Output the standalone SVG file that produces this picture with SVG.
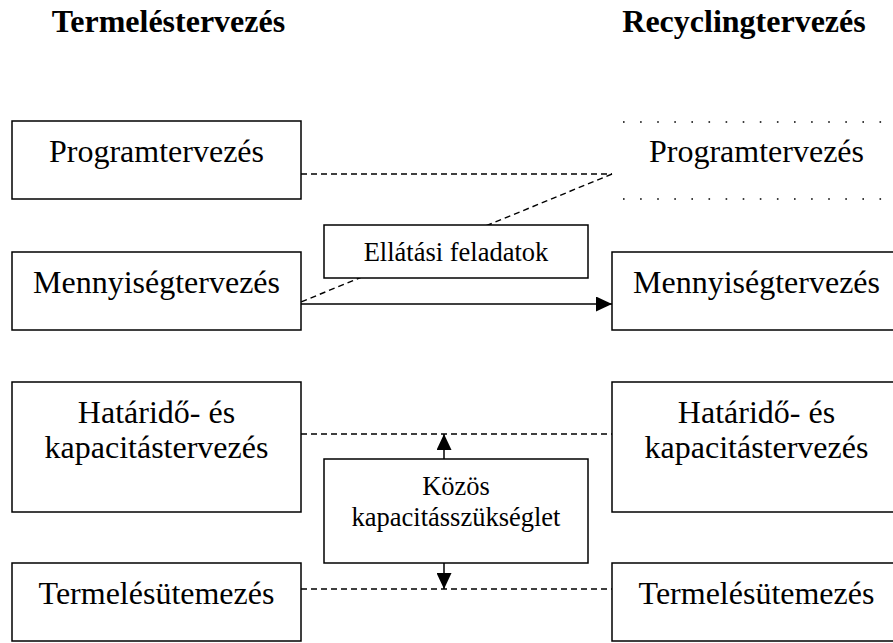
<svg xmlns="http://www.w3.org/2000/svg" width="893" height="643" viewBox="0 0 893 643">
  <style>
    .box { fill: #fff; stroke: #000; stroke-width: 1.5; }
    .lbl { font-family: "Liberation Serif", "Times New Roman", serif; font-size: 32px; fill: #000; text-anchor: middle; }
    .small { font-family: "Liberation Serif", "Times New Roman", serif; font-size: 26.5px; fill: #000; text-anchor: middle; }
    .title { font-family: "Liberation Serif", "Times New Roman", serif; font-size: 32px; font-weight: bold; fill: #000; text-anchor: middle; }
    .dash { stroke: #000; stroke-width: 1.4; stroke-dasharray: 6 4; fill: none; }
    .solid { stroke: #000; stroke-width: 1.5; fill: none; }
    .dots { stroke: #000; stroke-width: 1.6; stroke-dasharray: 1.6 15.5; fill: none; }
  </style>
  <defs>
    <marker id="arrow" viewBox="0 0 16 15" refX="16" refY="7.5" markerWidth="16" markerHeight="15" markerUnits="userSpaceOnUse" orient="auto">
      <path d="M0,0 L16,7.5 L0,15 z" fill="#000"/>
    </marker>
  </defs>

  <g id="titles">
    <text class="title" x="168.5" y="32">Termeléstervezés</text>
    <text class="title" x="744" y="32">Recyclingtervezés</text>
  </g>

  <g id="connectors">
    <line class="dash" x1="301" y1="174" x2="612" y2="174"/>
    <line class="dash" x1="612" y1="174" x2="301" y2="302"/>
    <line class="solid" x1="301" y1="304" x2="612" y2="304" marker-end="url(#arrow)"/>
    <line class="dash" x1="301" y1="434" x2="612" y2="434"/>
    <line class="dash" x1="301" y1="589" x2="612" y2="589"/>
    <line class="solid" x1="444" y1="459" x2="444" y2="434" marker-end="url(#arrow)"/>
    <line class="solid" x1="444" y1="563" x2="444" y2="589" marker-end="url(#arrow)"/>
  </g>

  <g id="prod-program">
    <rect class="box" x="12" y="121" width="289" height="78"/>
    <text class="lbl" x="156.5" y="162">Programtervezés</text>
  </g>
  <g id="prod-mennyiseg">
    <rect class="box" x="12" y="252" width="289" height="78"/>
    <text class="lbl" x="156.5" y="293">Mennyiségtervezés</text>
  </g>
  <g id="prod-hatarido">
    <rect class="box" x="12" y="382" width="289" height="130"/>
    <text class="lbl" x="156.5" y="423">Határidő- és</text>
    <text class="lbl" x="156.5" y="458">kapacitástervezés</text>
  </g>
  <g id="prod-utemezes">
    <rect class="box" x="12" y="563" width="289" height="78"/>
    <text class="lbl" x="156.5" y="604">Termelésütemezés</text>
  </g>

  <g id="rec-program">
    <line class="dots" x1="623" y1="122" x2="893" y2="122"/>
    <line class="dots" x1="623" y1="199" x2="893" y2="199"/>
    <text class="lbl" x="756.5" y="162">Programtervezés</text>
  </g>
  <g id="rec-mennyiseg">
    <rect class="box" x="612" y="252" width="289" height="78"/>
    <text class="lbl" x="756.5" y="293">Mennyiségtervezés</text>
  </g>
  <g id="rec-hatarido">
    <rect class="box" x="612" y="382" width="289" height="130"/>
    <text class="lbl" x="756.5" y="423">Határidő- és</text>
    <text class="lbl" x="756.5" y="458">kapacitástervezés</text>
  </g>
  <g id="rec-utemezes">
    <rect class="box" x="612" y="563" width="289" height="78"/>
    <text class="lbl" x="756.5" y="604">Termelésütemezés</text>
  </g>

  <g id="ellatasi">
    <rect class="box" x="324" y="225" width="264" height="53"/>
    <text class="small" x="456" y="261">Ellátási feladatok</text>
  </g>
  <g id="kozos">
    <rect class="box" x="324" y="459" width="264" height="104"/>
    <text class="small" x="456" y="495">Közös</text>
    <text class="small" x="456" y="526">kapacitásszükséglet</text>
  </g>
</svg>
